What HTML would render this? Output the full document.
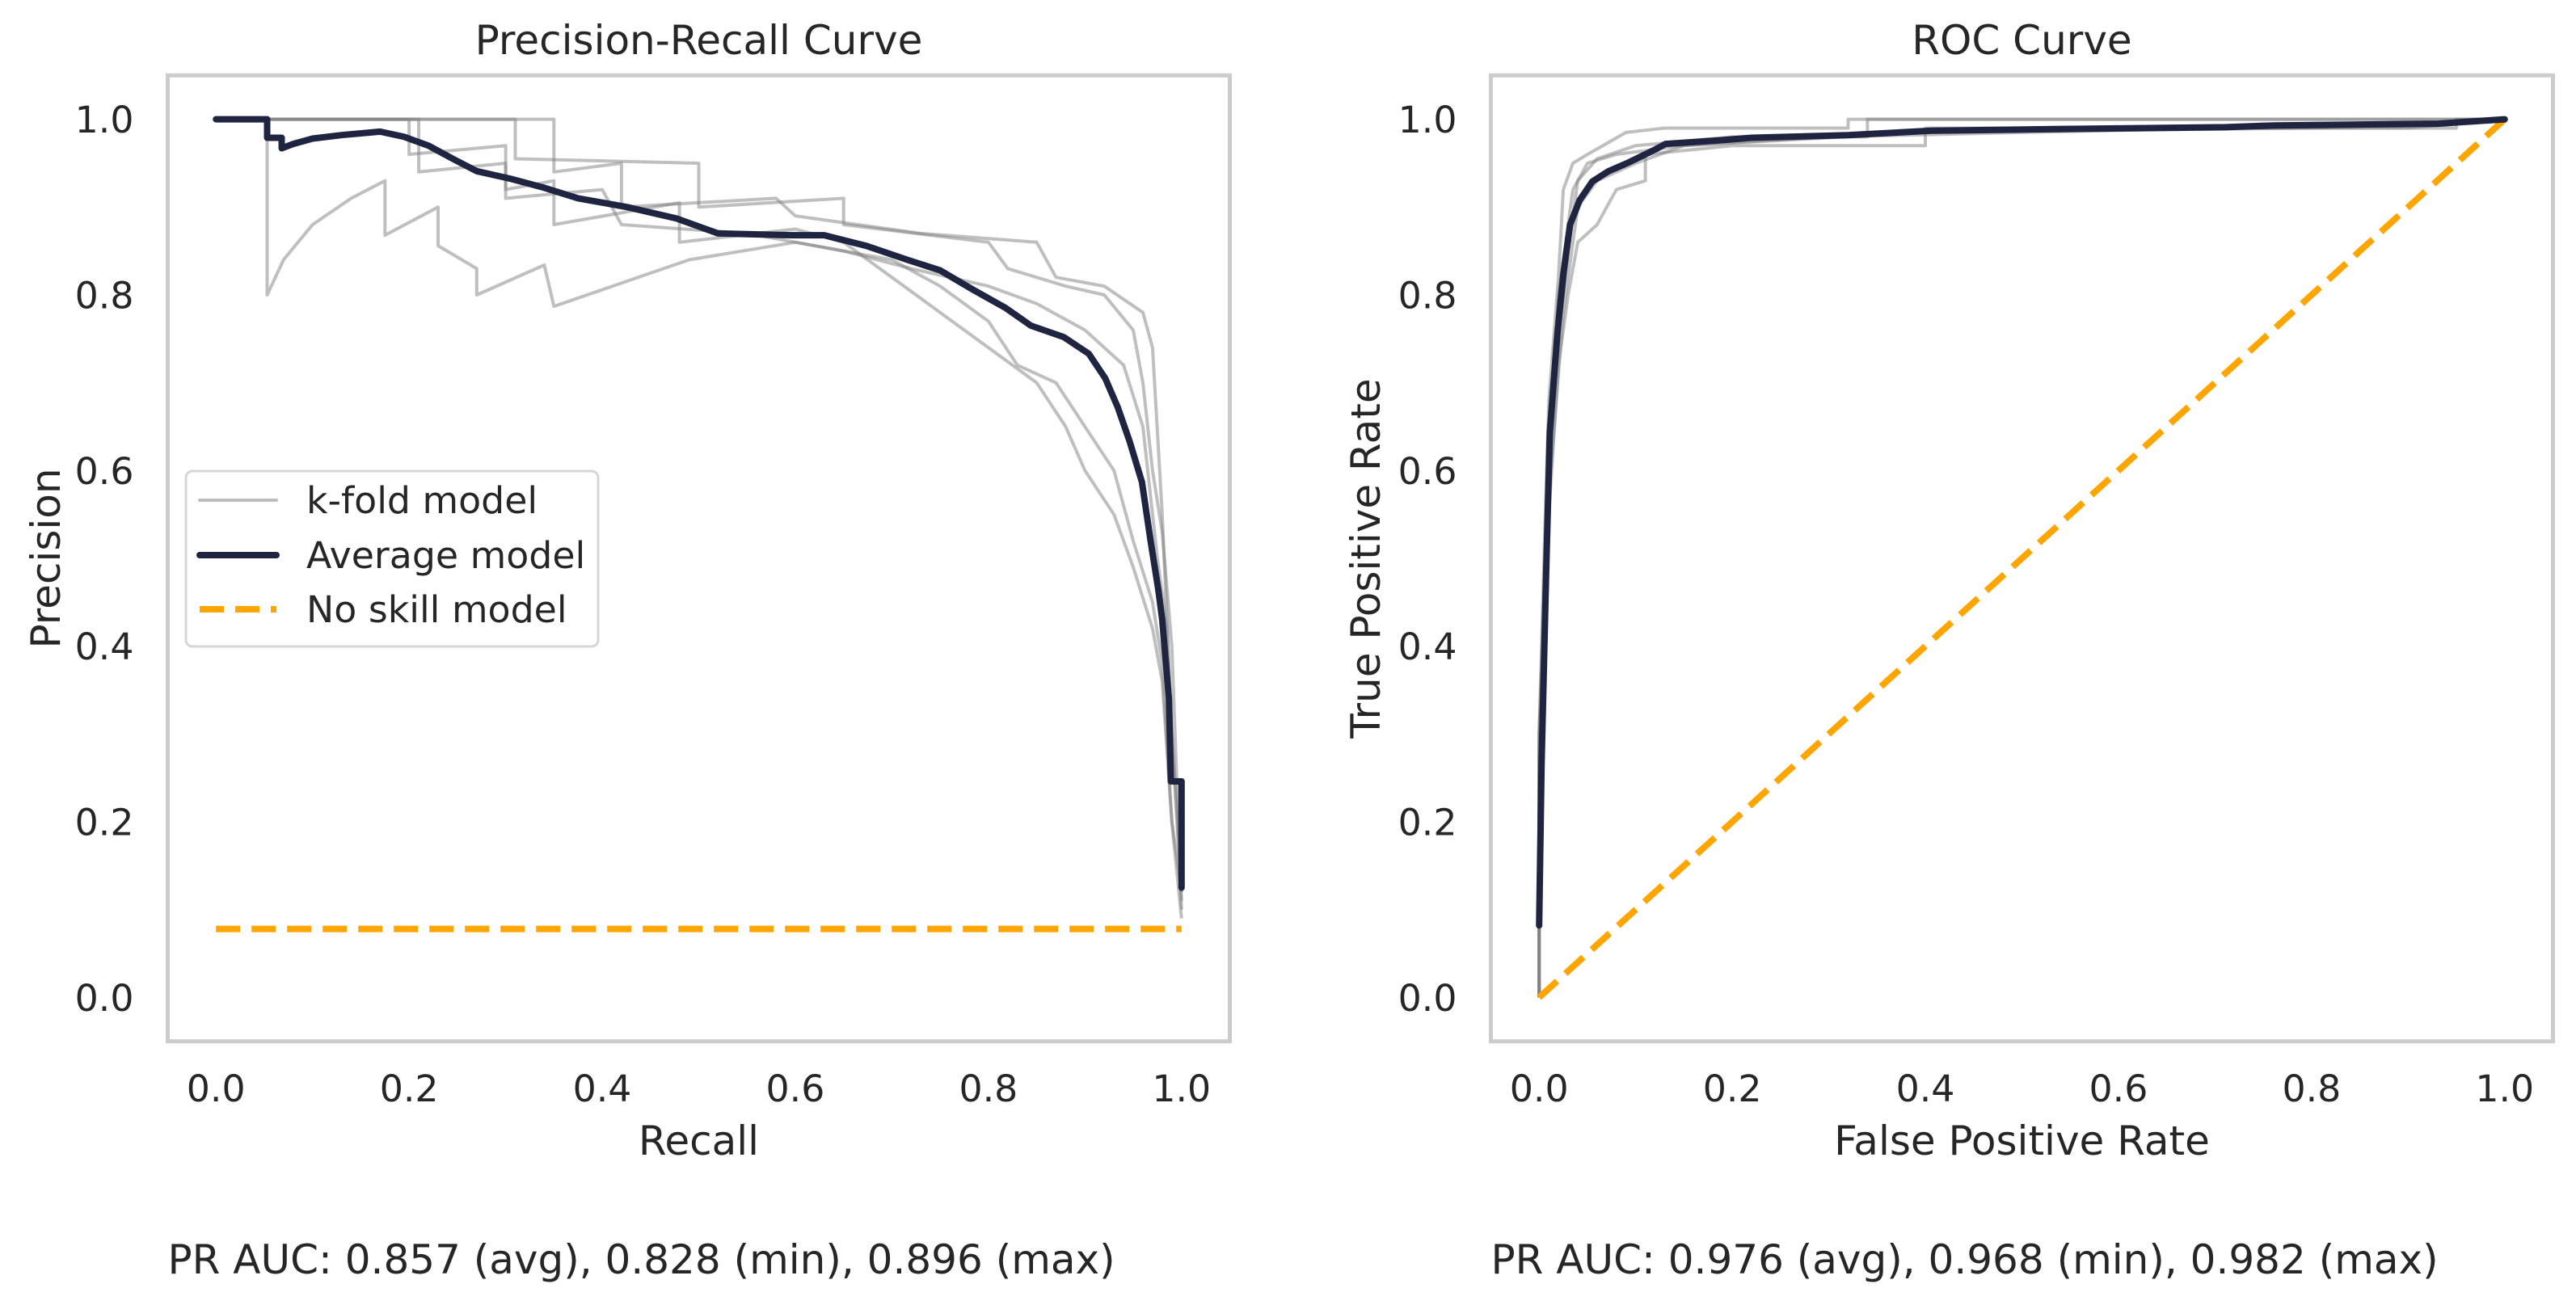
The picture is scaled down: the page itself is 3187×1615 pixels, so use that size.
<!DOCTYPE html>
<html><head><meta charset="utf-8">
<style>
html,body{margin:0;padding:0;background:#fff;}
svg{display:block;font-family:"DejaVu Sans","Liberation Sans",sans-serif;}
</style></head>
<body>
<svg id="fig" width="3187" height="1615" viewBox="0 0 3187 1615" xmlns="http://www.w3.org/2000/svg">
<rect width="3187" height="1615" fill="#fff"/>
<g id="pr"></g>
<g id="roc"></g>
</svg>
<script>
const xTicks = [0, 0.2, 0.4, 0.6, 0.8, 1.0];
const yTicks = [0, 0.2, 0.4, 0.6, 0.8, 1.0];
const tickLabels = ["0.0","0.2","0.4","0.6","0.8","1.0"];
const prAvgX = [0,0.053,0.053,0.068,0.068,0.08,0.1,0.13,0.17,0.195,0.22,0.247,0.27,0.306,0.34,0.375,0.426,0.477,0.52,0.596,0.63,0.673,0.716,0.75,0.784,0.818,0.844,0.878,0.904,0.921,0.934,0.946,0.959,0.968,0.976,0.98,0.987,0.989,1.0,1.0];
const prAvgY = [1,1,0.979,0.979,0.967,0.972,0.978,0.982,0.986,0.98,0.97,0.954,0.941,0.932,0.922,0.91,0.90,0.887,0.87,0.868,0.868,0.856,0.84,0.828,0.806,0.785,0.765,0.752,0.733,0.705,0.672,0.634,0.587,0.52,0.464,0.43,0.34,0.246,0.246,0.125];
const prFoldA = [[0,1],[0.053,1],[0.053,0.80],[0.07,0.84],[0.1,0.88],[0.14,0.91],[0.175,0.93],[0.175,0.868],[0.23,0.90],[0.23,0.856],[0.27,0.83],[0.27,0.80],[0.34,0.834],[0.35,0.787],[0.49,0.84],[0.6,0.86],[0.65,0.85],[0.7,0.84],[0.75,0.81],[0.8,0.77],[0.83,0.72],[0.87,0.70],[0.9,0.65],[0.93,0.60],[0.95,0.52],[0.97,0.45],[0.98,0.38],[0.99,0.2],[1.0,0.12]];
const prFoldB = [[0,1],[0.31,1],[0.31,0.955],[0.5,0.95],[0.5,0.90],[0.65,0.91],[0.65,0.88],[0.8,0.86],[0.82,0.83],[0.88,0.81],[0.92,0.80],[0.95,0.76],[0.96,0.70],[0.97,0.60],[0.98,0.53],[0.99,0.4],[1.0,0.10]];
const prFoldC = [[0,1],[0.35,1],[0.35,0.94],[0.42,0.95],[0.42,0.9],[0.58,0.91],[0.6,0.89],[0.73,0.87],[0.85,0.86],[0.87,0.82],[0.92,0.81],[0.96,0.78],[0.97,0.74],[0.98,0.55],[0.99,0.3],[1.0,0.11]];
const prFoldD = [[0,1],[0.21,1],[0.21,0.94],[0.3,0.95],[0.3,0.92],[0.35,0.93],[0.35,0.88],[0.48,0.905],[0.48,0.86],[0.6,0.875],[0.65,0.86],[0.7,0.82],[0.75,0.78],[0.8,0.74],[0.85,0.70],[0.88,0.65],[0.9,0.60],[0.93,0.55],[0.95,0.49],[0.97,0.42],[0.98,0.36],[0.99,0.2],[1.0,0.09]];
const prFoldE = [[0,1],[0.2,1],[0.2,0.96],[0.3,0.97],[0.3,0.91],[0.4,0.92],[0.42,0.88],[0.55,0.87],[0.65,0.85],[0.72,0.83],[0.8,0.81],[0.85,0.79],[0.9,0.76],[0.94,0.72],[0.96,0.65],[0.975,0.5],[0.985,0.42],[0.99,0.3],[1.0,0.13]];
const noSkillPrecision = 0.078;
const rocAvgX = [0,0.0025,0.007,0.011,0.015,0.019,0.025,0.032,0.042,0.055,0.072,0.093,0.119,0.131,0.186,0.22,0.32,0.406,0.542,0.711,0.762,0.931,1];
const rocAvgY = [0.082,0.265,0.473,0.643,0.70,0.757,0.823,0.88,0.908,0.929,0.941,0.951,0.965,0.972,0.976,0.979,0.982,0.987,0.989,0.991,0.993,0.995,1];
const rocFold1 = [[0,0],[0,0.3],[0.005,0.5],[0.01,0.68],[0.02,0.82],[0.025,0.92],[0.035,0.95],[0.05,0.96],[0.09,0.985],[0.13,0.99],[0.32,0.99],[0.32,1],[1,1]];
const rocFold2 = [[0,0],[0,0.25],[0.01,0.6],[0.02,0.75],[0.03,0.85],[0.04,0.93],[0.06,0.955],[0.1,0.97],[0.2,0.98],[0.34,0.98],[0.34,1],[1,1]];
const rocFold3 = [[0,0],[0,0.3],[0.01,0.55],[0.02,0.72],[0.03,0.80],[0.04,0.86],[0.06,0.88],[0.07,0.9],[0.08,0.92],[0.11,0.93],[0.11,0.96],[0.2,0.97],[0.4,0.97],[0.4,0.99],[0.95,0.99],[0.95,1],[1,1]];
const rocFold4 = [[0,0],[0,0.3],[0.01,0.62],[0.02,0.8],[0.035,0.92],[0.05,0.95],[0.08,0.96],[0.15,0.97],[0.4,0.985],[0.8,0.99],[1,1]];
const rocFold5 = [[0,0],[0,0.28],[0.012,0.6],[0.025,0.78],[0.04,0.9],[0.06,0.93],[0.1,0.95],[0.15,0.97],[0.3,0.98],[0.7,0.99],[0.9,0.99],[1,1]];

const NS='http://www.w3.org/2000/svg';
function mk(parent, tag, attrs, text){
  const e=document.createElementNS(NS,tag);
  for(const k in attrs) e.setAttribute(k,attrs[k]);
  if(text!==undefined) e.textContent=text;
  parent.appendChild(e); return e;
}
function panel(g, left, title, xlab, ylab, ylabX, footer){
  const top=93.3, W=1314, H=1195.4;
  const x0=left+W*0.05/1.1, x1=left+W-W*0.05/1.1;
  const y1=top+H*0.05/1.1, y0=top+H-H*0.05/1.1;
  const sx=v=>x0+(x1-x0)*v, sy=v=>y0-(y0-y1)*v;
  const fr=mk(g,'rect',{x:left,y:top,width:W,height:H,fill:'none',stroke:'#cccccc','stroke-width':5});
  
  
  const t=mk(g,'text',{x:left+W/2,y:67,'text-anchor':'middle','font-size':50,fill:'#262626'},title);
  
  
  xTicks.forEach((v,i)=>{
    const e=mk(g,'text',{x:sx(v),y:1363,'text-anchor':'middle','font-size':45.8,fill:'#262626'},tickLabels[i]);
    
    
  });
  yTicks.forEach((v,i)=>{
    const e=mk(g,'text',{x:left-42,y:sy(v)+16.5,'text-anchor':'end','font-size':45.8,fill:'#262626'},tickLabels[i]);
    
    
  });
  const xl=mk(g,'text',{x:left+W/2,y:1429,'text-anchor':'middle','font-size':50,fill:'#262626'},xlab);
  
  
  const cy=top+H/2;
  const yl=mk(g,'text',{x:ylabX,y:cy,'text-anchor':'middle','font-size':50,fill:'#262626',transform:`rotate(-90 ${ylabX} ${cy}) translate(0 18)`},ylab);
  
  
  const f=mk(g,'text',{x:left,y:1576,'font-size':50,fill:'#262626'},footer);
  
  
  return {sx,sy};
}
function line(g, pts, ax, style, name){
  const d=pts.map((p,i)=>(i?'L':'M')+ax.sx(p[0]).toFixed(1)+' '+ax.sy(p[1]).toFixed(1)).join(' ');
  const e=mk(g,'path',Object.assign({d:d,fill:'none','stroke-linejoin':'round'},style));
  
  
}
const grey={stroke:'#808080','stroke-opacity':0.5,'stroke-width':4};
const avg={stroke:'#1f2541','stroke-width':8,'stroke-linecap':'round'};
const dash={stroke:'#ffa500','stroke-width':8,'stroke-dasharray':'30 14'};

const gp=document.getElementById('pr');
const a1=panel(gp,207.5,'Precision-Recall Curve','Recall','Precision',56,'PR AUC: 0.857 (avg), 0.828 (min), 0.896 (max)');
[prFoldA,prFoldB,prFoldC,prFoldD,prFoldE].forEach(f=>line(gp,f,a1,grey,'kfold-pr-curve'));
line(gp,[[0,noSkillPrecision],[1,noSkillPrecision]],a1,dash,'no-skill-pr-line');
line(gp,prAvgX.map((x,i)=>[x,prAvgY[i]]),a1,avg,'average-pr-curve');

const lg=mk(gp,'g',{});


mk(lg,'rect',{x:230,y:583,width:510,height:217,rx:8,fill:'#fff','fill-opacity':0.8,stroke:'#d6d6d6','stroke-width':3});
const legItems=[['k-fold model',{stroke:'#bdbdbd','stroke-width':4,'stroke-linecap':'round'}],['Average model',{stroke:'#1f2541','stroke-width':8,'stroke-linecap':'round'}],['No skill model',{stroke:'#ffa500','stroke-width':8,'stroke-dasharray':'30 14'}]];
const legY=[619,687,754];
legItems.forEach((it,i)=>{
  const en=mk(lg,'g',{});
  
  
  mk(en,'line',Object.assign({x1:247,x2:342,y1:legY[i],y2:legY[i]},it[1]));
  mk(en,'text',{x:379,y:legY[i]+16,'font-size':45.8,fill:'#262626'},it[0]);
});

const gr=document.getElementById('roc');
const a2=panel(gr,1844.5,'ROC Curve','False Positive Rate','True Positive Rate',1689,'PR AUC: 0.976 (avg), 0.968 (min), 0.982 (max)');
[rocFold1,rocFold2,rocFold3,rocFold4,rocFold5].forEach(f=>line(gr,f,a2,grey,'kfold-roc-curve'));
line(gr,[[0,0],[1,1]],a2,dash,'no-skill-roc-line');
line(gr,rocAvgX.map((x,i)=>[x,rocAvgY[i]]),a2,avg,'average-roc-curve');
</script>
</body></html>
